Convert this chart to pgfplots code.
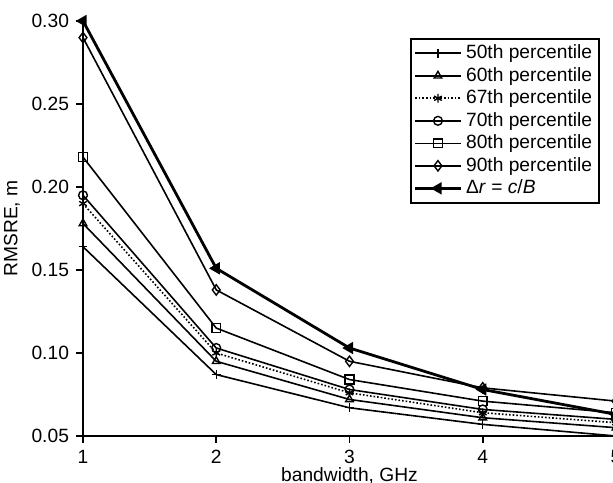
\documentclass[border=0pt]{standalone}
\usepackage{fontspec}
\setmainfont{Liberation Sans}
\usepackage{pgfplots}
\pgfplotsset{compat=1.18}
\begin{document}
\begin{tikzpicture}[font=\fontsize{9.6}{11}\selectfont]
\begin{axis}[
    name=ax,
    scale only axis,
    width=266.5pt, height=207.5pt,
    xmin=1, xmax=5, ymin=0.05, ymax=0.30,
    xtick={1,2,3,4,5},
    ytick={0.05,0.10,0.15,0.20,0.25,0.30},
    yticklabel style={/pgf/number format/fixed, /pgf/number format/fixed zerofill, /pgf/number format/precision=2},
    /pgf/number format/assume math mode=true,
    scaled y ticks=false,
    axis lines*=left,
    axis line style={line width=0.9pt, -},
    tick align=outside,
    major tick length=3.5pt,
    tick style={line width=0.8pt, black},
    xlabel={bandwidth, GHz},
    ylabel={RMSRE, m},
    xlabel style={yshift=5pt},
    ylabel style={yshift=-1pt},
    clip=false,
    legend cell align=left,
    legend style={at={(0.6135,0.959)}, anchor=north west, draw=black, line width=0.8pt,
        font=\fontsize{9.6}{11}\selectfont, row sep=-1.2pt, inner xsep=1.5pt, inner ysep=1pt},
    legend image code/.code={\draw[mark repeat=2,mark phase=2] plot coordinates {(0cm,0cm)(0.4cm,0cm)(0.8cm,0cm)};},
    every axis plot/.append style={black, line width=0.8pt, mark size=2.2pt, mark options={solid, line width=0.7pt}},
]
\addplot[mark=+] coordinates {(1,0.164)(2,0.087)(3,0.067)(4,0.057)(5,0.050)};
\addlegendentry{50th percentile}
\addplot[mark=triangle] coordinates {(1,0.178)(2,0.095)(3,0.072)(4,0.061)(5,0.055)};
\addlegendentry{60th percentile}
\addplot[densely dotted, mark=asterisk] coordinates {(1,0.190)(2,0.100)(3,0.076)(4,0.064)(5,0.058)};
\addlegendentry{67th percentile}
\addplot[mark=o] coordinates {(1,0.195)(2,0.103)(3,0.078)(4,0.066)(5,0.060)};
\addlegendentry{70th percentile}
\addplot[mark=square] coordinates {(1,0.218)(2,0.115)(3,0.084)(4,0.071)(5,0.064)};
\addlegendentry{80th percentile}
\addplot[mark=diamond, mark size=2.6pt] coordinates {(1,0.290)(2,0.138)(3,0.095)(4,0.079)(5,0.071)};
\addlegendentry{90th percentile}
\addplot[line width=1.4pt, mark=triangle*, mark options={rotate=90, solid}] coordinates {(1,0.300)(2,0.151)(3,0.103)(4,0.078)(5,0.063)};
\addlegendentry{Δ\textit{r} = \textit{c}/\textit{B}}
\end{axis}
\pgfresetboundingbox
\path[use as bounding box] ([xshift=-41.5pt,yshift=-23.5pt]ax.south west) rectangle ([xshift=-1.5pt,yshift=10.5pt]ax.north east);
\end{tikzpicture}
\end{document}
